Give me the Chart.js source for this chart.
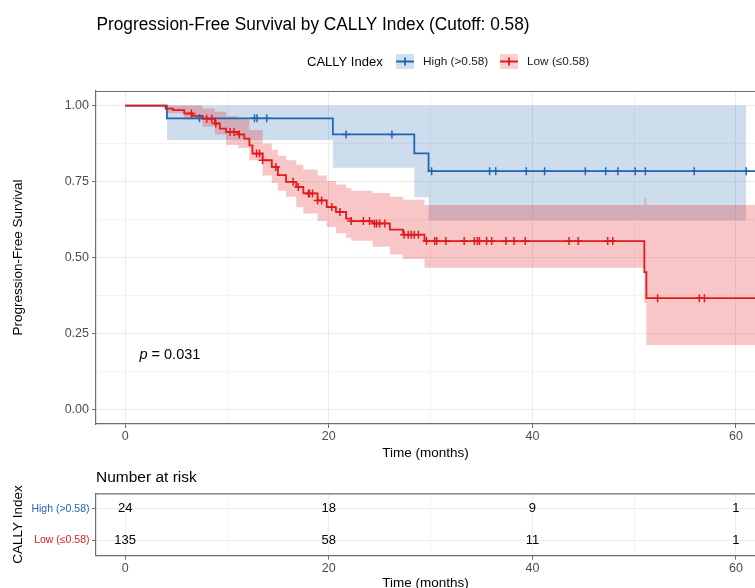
<!DOCTYPE html>
<html>
<head>
<meta charset="utf-8">
<title>Progression-Free Survival by CALLY Index</title>
<script src="https://cdn.jsdelivr.net/npm/chart.js@4.4.1/dist/chart.umd.min.js"></script>
<style>
  html, body { margin: 0; padding: 0; background: #fff; overflow: hidden; }
  #wrap { position: relative; width: 755px; height: 588px; overflow: hidden; }
  #km { position: absolute; left: 0; top: 0; }
  #risk { position: absolute; left: 0; top: 460px; }
</style>
</head>
<body>
<div id="wrap">
  <canvas id="km" width="755" height="470"></canvas>
  <canvas id="risk" width="755" height="135"></canvas>
</div>
<script>
'use strict';

// High group (CALLY > 0.58): KM steps, censoring times, CI band
const highTimes = [0, 4.1, 20.4, 28.4, 29.8, 61.9];
const highSurv = [1, 0.958, 0.905, 0.843, 0.784, 0.784];
const highCensor = [7.3, 12.7, 12.95, 13.9, 21.7, 26.2, 30.1, 35.8, 36.4, 39.4, 41.2, 45.2, 47.2, 48.4, 50.1, 51.1, 55.9, 61.0];
const highCiTimes = [4.1, 20.4, 28.4, 29.8, 61.0];
const highUpper = [1, 1, 1, 1, 1];
const highLower = [0.887, 0.795, 0.698, 0.622, 0.622];

// Low group (CALLY <= 0.58)
const lowTimes = [0, 3.96, 4.7, 5.8, 6.6, 7.6, 8.8, 9.3, 9.9, 11.1, 11.7, 12.2, 12.5, 13.5, 14.4, 15.0, 15.8, 16.8, 17.5, 18.9, 19.8, 20.7, 21.7, 22.2, 24.3, 26.0, 27.3, 29.4, 51.0, 51.2, 61.9];
const lowSurv = [1, 0.990, 0.985, 0.974, 0.966, 0.957, 0.941, 0.924, 0.913, 0.905, 0.891, 0.869, 0.842, 0.820, 0.798, 0.771, 0.749, 0.732, 0.711, 0.688, 0.666, 0.650, 0.628, 0.620, 0.612, 0.592, 0.575, 0.554, 0.452, 0.366, 0.366];
const lowCensor = [6.5, 8.0, 8.5, 8.9, 10.3, 10.7, 11.2, 12.9, 13.2, 13.5, 14.8, 16.5, 17.0, 18.0, 18.1, 18.4, 18.9, 19.3, 20.3, 21.1, 22.2, 23.4, 24.0, 24.5, 24.7, 25.0, 25.5, 27.4, 27.8, 28.1, 28.4, 28.8, 29.6, 30.4, 30.6, 31.5, 33.3, 34.3, 34.6, 34.8, 35.5, 36.0, 37.4, 38.2, 39.3, 43.6, 44.5, 47.4, 47.9, 52.3, 56.4, 56.9];
const lowCiTimes = [3.96, 5.8, 7.6, 8.8, 9.9, 11.1, 12.2, 13.5, 14.4, 15.0, 15.8, 16.8, 17.5, 18.9, 19.8, 20.7, 21.7, 22.2, 24.3, 26.0, 27.3, 29.4, 51.0, 51.2, 61.9];
const lowUpper = [1, 1, 0.99, 0.98, 0.965, 0.955, 0.92, 0.875, 0.855, 0.835, 0.82, 0.805, 0.79, 0.77, 0.752, 0.74, 0.728, 0.72, 0.712, 0.70, 0.69, 0.673, 0.695, 0.673, 0.673];
const lowLower = [0.975, 0.955, 0.93, 0.905, 0.87, 0.86, 0.82, 0.77, 0.745, 0.72, 0.70, 0.665, 0.645, 0.62, 0.60, 0.58, 0.565, 0.555, 0.535, 0.51, 0.495, 0.466, 0.35, 0.212, 0.212];

// Number at risk table
const riskTimes = [0, 20, 40, 60];
const riskHigh = [24, 18, 9, 1];
const riskLow = [135, 58, 11, 1];
const groupLabels = ['High (>0.58)', 'Low (\u22640.58)'];

const BLUE = '#2166b1';
const RED = '#e41a1c';
const X_MIN = -2.87, X_MAX = 61.87;
const FONT = "'Liberation Sans', Arial, sans-serif";

Chart.defaults.font.family = FONT;
Chart.defaults.color = '#4d4d4d';

const pts = (xs, ys) => xs.map((x, i) => ({ x: x, y: ys[i] }));
function survAt(times, surv, t) {
    let s = surv[0];
    for (let i = 0; i < times.length; i++) {
        if (times[i] <= t) s = surv[i];
    }
    return s;
}
const isMajorX = v => Math.abs(v % 20) < 1e-6;
const isMajorY = v => Math.abs(v * 4 - Math.round(v * 4)) < 1e-6;

function xAxis(titlePad, height) {
    return {
        type: 'linear', min: X_MIN, max: X_MAX,
        ticks: {
            stepSize: 10, includeBounds: false, autoSkip: false, maxRotation: 0, padding: 1,
            color: '#4d4d4d', font: { size: 12.5 },
            callback: v => isMajorX(v) ? String(v) : ''
        },
        grid: {
            color: c => (c.tick && isMajorX(c.tick.value)) ? '#ebebeb' : '#f4f4f4',
            tickLength: 4,
            tickColor: c => (c.tick && isMajorX(c.tick.value)) ? '#6e6e6e' : 'rgba(0,0,0,0)'
        },
        border: { color: '#6e6e6e', width: 1.2 },
        title: { display: true, text: 'Time (months)', color: '#000', font: { size: 13.5 }, padding: { top: 0, bottom: titlePad } },
        afterFit: s => { s.height = height; s.paddingLeft = 0; s.paddingRight = 0; }
    };
}

const panelTop = {
    id: 'panelTop',
    afterDraw(chart) {
        const { ctx, chartArea } = chart;
        ctx.save();
        ctx.strokeStyle = '#6e6e6e';
        ctx.lineWidth = 1.2;
        ctx.beginPath();
        ctx.moveTo(chartArea.left, chartArea.top + 0.5);
        ctx.lineTo(chartArea.right, chartArea.top + 0.5);
        ctx.stroke();
        ctx.restore();
    }
};

const headerAndNotes = {
    id: 'headerAndNotes',
    afterDraw(chart) {
        const { ctx, scales } = chart;
        ctx.save();
        ctx.textBaseline = 'middle';
        ctx.textAlign = 'left';
        ctx.fillStyle = '#000';
        ctx.font = '18px ' + FONT;
        ctx.fillText('Progression-Free Survival by CALLY Index (Cutoff: 0.58)', 96.5, 25.5, 433);

        // legend
        ctx.font = '13px ' + FONT;
        ctx.fillText('CALLY Index', 307, 62);
        const keys = [
            { x: 396, col: BLUE, bg: '#cfe0f1', text: groupLabels[0], tx: 423 },
            { x: 500, col: RED, bg: '#f9d0d0', text: groupLabels[1], tx: 527 }
        ];
        keys.forEach(k => {
            ctx.fillStyle = k.bg;
            ctx.fillRect(k.x, 54, 18, 15);
            ctx.strokeStyle = k.col;
            ctx.lineWidth = 1.8;
            ctx.beginPath();
            ctx.moveTo(k.x, 61.5); ctx.lineTo(k.x + 18, 61.5);
            ctx.moveTo(k.x + 9, 57.5); ctx.lineTo(k.x + 9, 65.5);
            ctx.stroke();
            ctx.fillStyle = '#1a1a1a';
            ctx.font = '11.8px ' + FONT;
            ctx.fillText(k.text, k.tx, 62);
        });

        // log-rank p value
        const px = scales.x.getPixelForValue(1.4);
        const py = scales.y.getPixelForValue(0.18);
        ctx.fillStyle = '#000';
        ctx.font = 'italic 14.5px ' + FONT;
        ctx.fillText('p', px, py);
        const w = ctx.measureText('p').width;
        ctx.font = '14.5px ' + FONT;
        ctx.fillText(' = 0.031', px + w, py);
        ctx.restore();
    }
};

const lineBase = { stepped: true, pointRadius: 0, pointHoverRadius: 0, fill: false, borderWidth: 1.8 };
const bandBase = { stepped: true, pointRadius: 0, pointHoverRadius: 0, borderWidth: 0, borderColor: 'rgba(0,0,0,0)' };
const censorBase = { showLine: false, pointStyle: 'cross', pointRadius: 4, pointHoverRadius: 4, borderWidth: 1.5, order: 0 };

new Chart(document.getElementById('km'), {
    type: 'line',
    data: {
        datasets: [
            Object.assign({}, censorBase, { label: 'Low censored', borderColor: RED,
                data: lowCensor.map(t => ({ x: t, y: survAt(lowTimes, lowSurv, t) })) }),
            Object.assign({}, censorBase, { label: 'High censored', borderColor: BLUE,
                data: highCensor.map(t => ({ x: t, y: survAt(highTimes, highSurv, t) })) }),
            Object.assign({}, lineBase, { label: groupLabels[1], borderColor: RED, data: pts(lowTimes, lowSurv), order: 1 }),
            Object.assign({}, lineBase, { label: groupLabels[0], borderColor: BLUE, data: pts(highTimes, highSurv), order: 2 }),
            Object.assign({}, bandBase, { label: 'Low upper', data: pts(lowCiTimes, lowUpper), fill: false, order: 3 }),
            Object.assign({}, bandBase, { label: 'Low lower', data: pts(lowCiTimes, lowLower), fill: '-1',
                backgroundColor: 'rgba(228,26,28,0.25)', order: 3 }),
            Object.assign({}, bandBase, { label: 'High upper', data: pts(highCiTimes, highUpper), fill: false, order: 4 }),
            Object.assign({}, bandBase, { label: 'High lower', data: pts(highCiTimes, highLower), fill: '-1',
                backgroundColor: 'rgba(33,102,172,0.22)', order: 4 })
        ]
    },
    options: {
        responsive: false,
        animation: false,
        layout: { autoPadding: false, padding: { top: 91, right: 0, bottom: 0, left: 0 } },
        plugins: { legend: { display: false }, title: { display: false }, tooltip: { enabled: false } },
        scales: {
            x: xAxis(8.6, 46),
            y: {
                type: 'linear', min: -0.048, max: 1.048,
                ticks: {
                    stepSize: 0.125, includeBounds: false, autoSkip: false, padding: 3,
                    color: '#4d4d4d', font: { size: 12.5 },
                    callback: v => isMajorY(v) ? v.toFixed(2) : ''
                },
                grid: {
                    color: c => (c.tick && isMajorY(c.tick.value)) ? '#ebebeb' : '#f4f4f4',
                    tickLength: 4,
                    tickColor: c => (c.tick && isMajorY(c.tick.value)) ? '#6e6e6e' : 'rgba(0,0,0,0)'
                },
                border: { color: '#6e6e6e', width: 1.2 },
                title: { display: true, text: 'Progression-Free Survival', color: '#000', font: { size: 13.5 }, padding: { top: 10, bottom: 0 } },
                afterFit: s => { s.width = 96; s.paddingTop = 0; s.paddingBottom = 0; }
            }
        }
    },
    plugins: [panelTop, headerAndNotes]
});

const riskText = {
    id: 'riskText',
    afterDatasetsDraw(chart) {
        const { ctx, chartArea } = chart;
        ctx.save();
        ctx.fillStyle = '#000';
        ctx.textBaseline = 'middle';
        ctx.textAlign = 'left';
        ctx.font = '15.5px ' + FONT;
        ctx.fillText('Number at risk', chartArea.left, chartArea.top - 15.5);
        ctx.textAlign = 'center';
        ctx.font = '13px ' + FONT;
        chart.data.datasets.forEach((ds, di) => {
            chart.getDatasetMeta(di).data.forEach((el, i) => {
                ctx.fillText(String(ds.counts[i]), el.x, el.y);
            });
        });
        ctx.restore();
    }
};

new Chart(document.getElementById('risk'), {
    type: 'line',
    data: {
        datasets: [
            { label: groupLabels[0], counts: riskHigh, showLine: false, pointRadius: 0,
              data: riskTimes.map(t => ({ x: t, y: groupLabels[0] })) },
            { label: groupLabels[1], counts: riskLow, showLine: false, pointRadius: 0,
              data: riskTimes.map(t => ({ x: t, y: groupLabels[1] })) }
        ]
    },
    options: {
        responsive: false,
        animation: false,
        layout: { autoPadding: false, padding: { top: 33.3, right: 0, bottom: 0, left: 0 } },
        plugins: { legend: { display: false }, tooltip: { enabled: false } },
        scales: {
            x: xAxis(3.6, 39.3),
            y: {
                type: 'category', labels: groupLabels, offset: true,
                ticks: { padding: 2.5, font: { size: 10.5 }, color: c => [BLUE, RED][c.index] },
                grid: { color: '#ebebeb', tickLength: 4, tickColor: '#6e6e6e' },
                border: { color: '#6e6e6e', width: 1.2 },
                title: { display: true, text: 'CALLY Index', color: '#000', font: { size: 13.5 }, padding: { top: 9.9, bottom: 0 } },
                afterFit: s => { s.width = 96; s.paddingTop = 0; s.paddingBottom = 0; }
            }
        }
    },
    plugins: [panelTop, riskText]
});
</script>
</body>
</html>
